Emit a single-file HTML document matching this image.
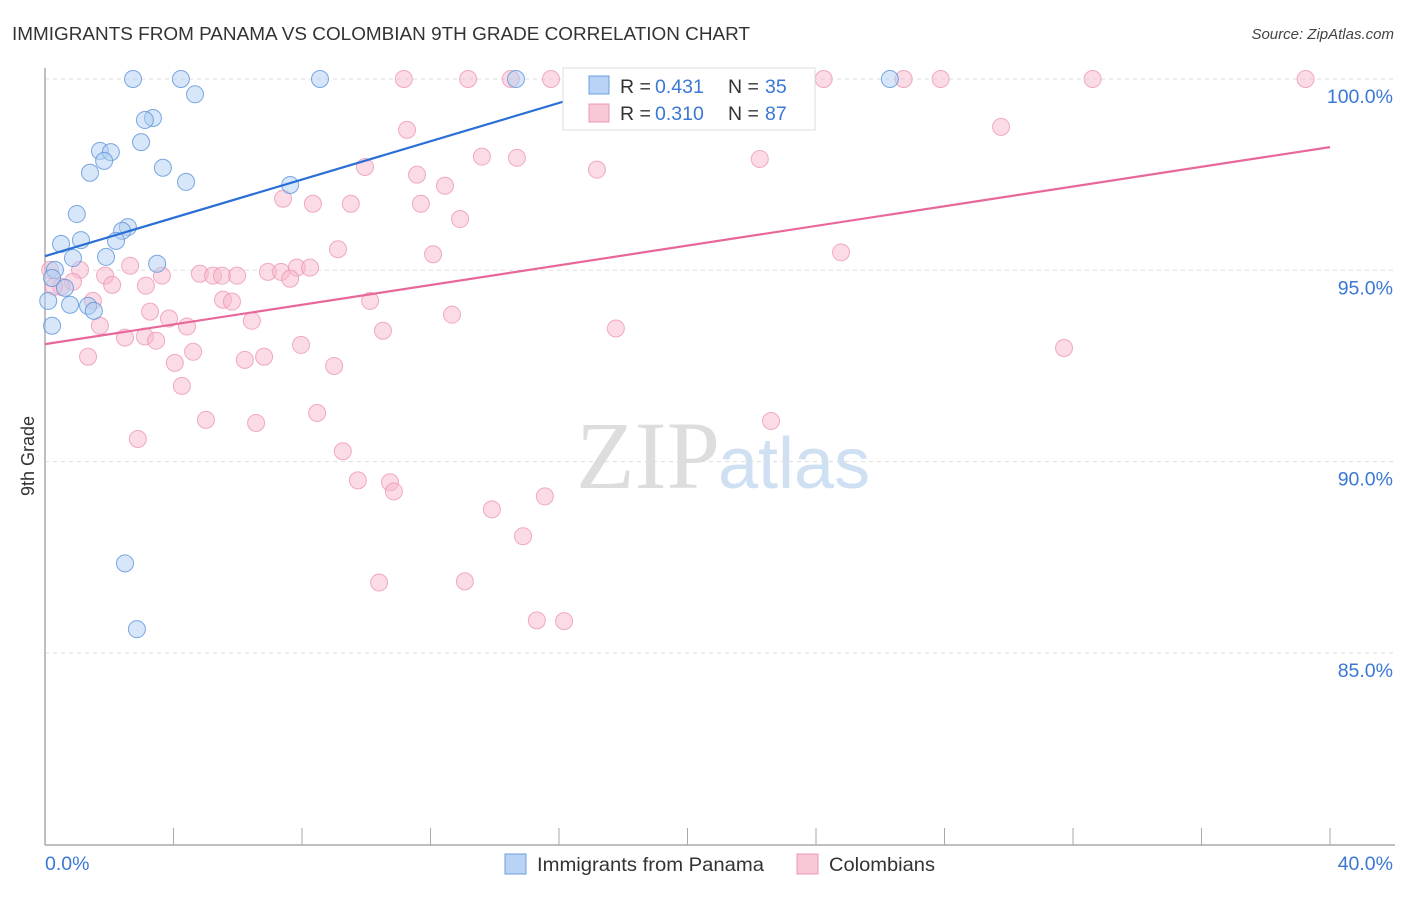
<!DOCTYPE html>
<html><head><meta charset="utf-8"><style>
body{margin:0;background:#fff;font-family:"Liberation Sans",sans-serif}
</style></head><body>
<svg width="1406" height="892" xmlns="http://www.w3.org/2000/svg" style="font-family:'Liberation Sans',sans-serif">
<text x="12" y="40" font-size="18" fill="#333" textLength="738" lengthAdjust="spacingAndGlyphs">IMMIGRANTS FROM PANAMA VS COLOMBIAN 9TH GRADE CORRELATION CHART</text>
<text x="1394" y="39" font-size="15" fill="#444" text-anchor="end" font-style="italic">Source: ZipAtlas.com</text>
<text x="720" y="488" font-size="96" text-anchor="end" fill="#ddd" font-family="Liberation Serif">ZIP</text>
<text x="718" y="488" font-size="72" fill="#cfe0f3">atlas</text>
<g id="grid"></g>
<line x1="45" y1="68" x2="45" y2="845" stroke="#aaa" stroke-width="1.5"/>
<line x1="45" y1="845" x2="1395" y2="845" stroke="#aaa" stroke-width="1.5"/>
<text transform="translate(34,456) rotate(-90)" font-size="18" fill="#333" text-anchor="middle">9th Grade</text>
<text x="45" y="870" font-size="19.5" fill="#3a78d4">0.0%</text>
<text x="1393" y="870" font-size="19.5" fill="#3a78d4" text-anchor="end">40.0%</text>
<g id="pts"></g>
<g>
<rect x="563" y="68" width="252" height="62" fill="#fff" stroke="#ddd"/>
<rect x="589" y="76" width="20" height="18" fill="#b8d3f5" stroke="#6a9fe0"/>
<rect x="589" y="104" width="20" height="18" fill="#f9c8d6" stroke="#ec98b2"/>
<text x="620" y="93" font-size="19.5" fill="#333">R = </text>
<text x="655" y="93" font-size="19.5" fill="#3a78d4">0.431</text>
<text x="728" y="93" font-size="19.5" fill="#333">N = </text>
<text x="765" y="93" font-size="19.5" fill="#3a78d4">35</text>
<text x="620" y="120" font-size="19.5" fill="#333">R = </text>
<text x="655" y="120" font-size="19.5" fill="#3a78d4">0.310</text>
<text x="728" y="120" font-size="19.5" fill="#333">N = </text>
<text x="765" y="120" font-size="19.5" fill="#3a78d4">87</text>
</g>
<g>
<rect x="505" y="854" width="21" height="20" fill="#b8d3f5" stroke="#6a9fe0"/>
<text x="537" y="871" font-size="19.5" fill="#333" textLength="227" lengthAdjust="spacingAndGlyphs">Immigrants from Panama</text>
<rect x="797" y="854" width="21" height="20" fill="#f9c8d6" stroke="#ec98b2"/>
<text x="829" y="871" font-size="19.5" fill="#333" textLength="106" lengthAdjust="spacingAndGlyphs">Colombians</text>
</g>
</svg>
<script>
const yTicks=[100,95,90,85];
const xTicks=[0,4,8,12,16,20,24,28,32,36,40];
const panamaX=[2.74,4.23,8.56,14.66,26.30,4.67,3.36,3.11,2.99,1.71,2.05,1.84,1.40,3.67,4.39,7.63,0.99,2.58,2.40,0.50,1.12,2.21,0.87,1.90,3.49,0.31,0.22,0.62,0.78,1.34,1.52,0.22,2.49,2.86,18.35,0.1];
const panamaY=[100,100,100,100,100,99.6,98.98,98.93,98.35,98.12,98.09,97.86,97.55,97.68,97.31,97.23,96.47,96.13,96.03,95.69,95.79,95.77,95.32,95.35,95.17,95.01,94.8,94.54,94.1,94.07,93.94,93.55,87.34,85.62,100,94.2];
const colX=[11.17,13.17,14.5,15.75,19.51,24.24,26.73,27.88,32.61,39.24,11.27,29.76,22.25,13.6,14.69,9.96,17.18,11.58,12.45,7.41,8.34,9.52,11.7,12.92,9.12,12.08,24.78,0.16,1.09,2.65,1.87,3.64,4.82,5.23,5.51,5.98,6.94,7.35,7.84,8.25,7.63,0.87,0.5,2.09,0.28,1.49,5.54,5.82,3.27,3.86,6.44,10.12,12.67,1.71,4.42,10.52,17.77,2.49,3.11,3.46,4.61,7.97,1.34,4.04,6.22,6.82,9.0,31.72,4.26,8.47,5.01,6.57,22.6,2.89,9.27,9.74,10.74,10.86,15.56,13.91,14.88,10.4,13.07,15.31,16.16,3.14];
const colY=[100,100,100,100,100,100,100,100,100,100,98.67,98.75,97.91,97.97,97.94,97.7,97.63,97.5,97.21,96.87,96.74,96.74,96.74,96.34,95.55,95.42,95.47,95.01,95.01,95.12,94.86,94.86,94.91,94.86,94.86,94.86,94.96,94.96,95.07,95.07,94.78,94.7,94.57,94.62,94.57,94.2,94.23,94.18,93.92,93.74,93.68,94.2,93.84,93.55,93.53,93.42,93.48,93.24,93.27,93.16,92.87,93.05,92.74,92.58,92.66,92.74,92.5,92.97,91.98,91.27,91.09,91.01,91.06,90.59,90.27,89.51,89.46,89.22,89.09,88.75,88.05,86.84,86.87,85.85,85.83,94.6];
const X=v=>45+v/40*1285, Y=v=>79+(100-v)/5*191.3;
const NS='http://www.w3.org/2000/svg';
const g=document.getElementById('grid');
yTicks.forEach(t=>{
 const l=document.createElementNS(NS,'line');
 
 
 l.setAttribute('x1',45);l.setAttribute('x2',1395);l.setAttribute('y1',Y(t));l.setAttribute('y2',Y(t));
 l.setAttribute('stroke','#ddd');l.setAttribute('stroke-dasharray','4,4');g.appendChild(l);
 const tx=document.createElementNS(NS,'text');
 
 
 tx.setAttribute('x',1393);tx.setAttribute('y',Y(t)+24);tx.setAttribute('text-anchor','end');
 tx.setAttribute('font-size','19.5');tx.setAttribute('fill','#3a78d4');tx.textContent=t.toFixed(1)+'%';g.appendChild(tx);
});
xTicks.forEach(t=>{
 const l=document.createElementNS(NS,'line');
 
 
 l.setAttribute('x1',X(t));l.setAttribute('x2',X(t));l.setAttribute('y1',828);l.setAttribute('y2',845);
 l.setAttribute('stroke','#aaa');g.appendChild(l);
});
const p=document.getElementById('pts');
function dots(xs,ys,fill,stroke,name){
 xs.forEach((x,i)=>{
  const c=document.createElementNS(NS,'circle');
  
  
  c.setAttribute('cx',X(x));c.setAttribute('cy',Y(ys[i]));c.setAttribute('r',8.5);
  c.setAttribute('fill',fill);c.setAttribute('fill-opacity','0.5');c.setAttribute('stroke',stroke);c.setAttribute('stroke-opacity','0.8');
  p.appendChild(c);
 });
}
dots(colX,colY,'#f7b8cb','#ec98b2','colombian-point');
dots(panamaX,panamaY,'#b0cdf2','#5b93db','panama-point');
function line(x1,y1,x2,y2,col,name){
 const l=document.createElementNS(NS,'line');
 
 
 l.setAttribute('x1',X(x1));l.setAttribute('y1',Y(y1));l.setAttribute('x2',X(x2));l.setAttribute('y2',Y(y2));
 l.setAttribute('stroke',col);l.setAttribute('stroke-width','2.2');p.appendChild(l);
}
line(0,95.37,18.5,100,'#2a6fd6','panama-trendline');
line(0,93.07,40,98.22,'#e8679a','colombian-trendline');
</script>
</body></html>
